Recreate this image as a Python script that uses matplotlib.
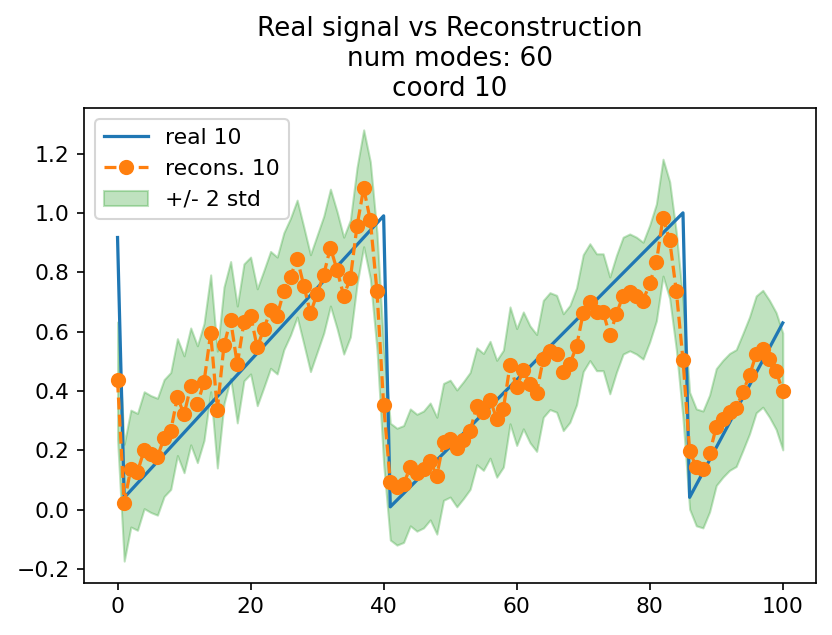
import matplotlib
matplotlib.use("Agg")
import matplotlib.pyplot as plt
import numpy as np

# real signal (piecewise linear sawtooth, breakpoints)
real_x = [0, 1, 40, 41, 85, 86, 100]
real_y = [0.917, 0.04, 0.99, 0.009, 1.0, 0.041, 0.629]

# reconstruction, one value per time step 0..100
recon = [
    0.435, 0.023, 0.138, 0.127, 0.200, 0.187, 0.178, 0.241, 0.265, 0.379,
    0.321, 0.415, 0.355, 0.430, 0.594, 0.337, 0.553, 0.639, 0.489, 0.631,
    0.654, 0.547, 0.609, 0.673, 0.654, 0.736, 0.785, 0.846, 0.755, 0.662,
    0.727, 0.792, 0.883, 0.807, 0.721, 0.779, 0.956, 1.083, 0.975, 0.735,
    0.352, 0.094, 0.077, 0.086, 0.142, 0.124, 0.135, 0.162, 0.114, 0.228,
    0.239, 0.206, 0.234, 0.265, 0.348, 0.329, 0.370, 0.306, 0.340, 0.486,
    0.413, 0.469, 0.422, 0.393, 0.508, 0.534, 0.525, 0.463, 0.491, 0.550,
    0.662, 0.699, 0.665, 0.665, 0.587, 0.660, 0.721, 0.732, 0.721, 0.704,
    0.762, 0.833, 0.984, 0.908, 0.736, 0.505, 0.198, 0.142, 0.135, 0.189,
    0.278, 0.306, 0.329, 0.342, 0.396, 0.452, 0.523, 0.542, 0.508, 0.467,
    0.398,
]
std = 0.0985

t = np.arange(len(recon))
recon = np.array(recon)

# reference looks rendered a bit bigger than the default 10pt
plt.rcParams['font.size'] = 10.5
plt.rcParams['lines.linewidth'] = 1.55
plt.rcParams['lines.markersize'] = 6.3

fig = plt.figure(figsize=(832 / 150, 635 / 150), dpi=150)
ax = fig.add_axes([0.1013, 0.0824, 0.8795, 0.7471])

ax.plot(real_x, real_y, label='real 10')
ax.plot(t, recon, 'o--', label='recons. 10')
ax.fill_between(t, recon - 2 * std, recon + 2 * std, color='C2', alpha=0.3,
                label='+/- 2 std')

ax.set_title('Real signal vs Reconstruction\nnum modes: 60\ncoord 10')
ax.legend(loc='upper left')

fig.savefig('out.png', dpi=150)
